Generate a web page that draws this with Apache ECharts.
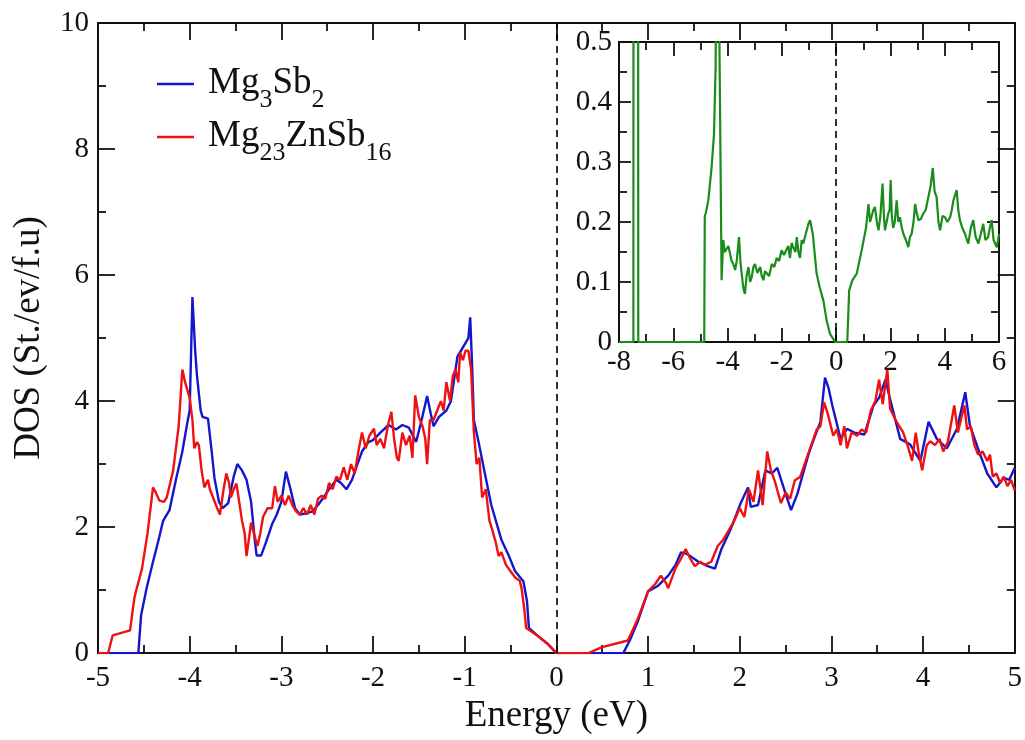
<!DOCTYPE html>
<html>
<head>
<meta charset="utf-8">
<script src="https://cdn.jsdelivr.net/npm/echarts@6/dist/echarts.min.js"></script>
<style>html,body{margin:0;padding:0;background:#fff}#c{width:1025px;height:740px}</style>
</head>
<body>
<div id="c"></div>
<script>
// Total DOS of Mg3Sb2 (blue) : [energy eV, DOS]
const mg3sb2Dos = [[-5,0],[-4.56,0],[-4.53,0.6],[-4.47,1.03],[-4.4,1.45],[-4.33,1.85],[-4.29,2.1],[-4.22,2.27],[-4.15,2.75],[-4.08,3.2],[-4.03,3.62],[-4.0,3.85],[-3.97,5.65],[-3.94,4.8],[-3.92,4.4],[-3.88,3.85],[-3.86,3.75],[-3.8,3.72],[-3.76,3.2],[-3.73,2.78],[-3.68,2.4],[-3.64,2.3],[-3.58,2.38],[-3.52,2.8],[-3.48,3.0],[-3.43,2.9],[-3.38,2.75],[-3.33,2.4],[-3.29,1.8],[-3.27,1.55],[-3.22,1.55],[-3.17,1.75],[-3.1,2.05],[-3.05,2.2],[-3.0,2.4],[-2.95,2.88],[-2.9,2.6],[-2.85,2.3],[-2.8,2.2],[-2.72,2.22],[-2.66,2.25],[-2.6,2.35],[-2.55,2.45],[-2.48,2.6],[-2.4,2.75],[-2.35,2.7],[-2.29,2.6],[-2.23,2.75],[-2.17,3.0],[-2.12,3.2],[-2.05,3.35],[-2.0,3.38],[-1.92,3.5],[-1.83,3.62],[-1.75,3.55],[-1.68,3.62],[-1.61,3.58],[-1.53,3.35],[-1.47,3.7],[-1.41,4.08],[-1.37,3.8],[-1.34,3.6],[-1.28,3.75],[-1.2,3.85],[-1.15,4.0],[-1.08,4.7],[-1.0,4.9],[-0.96,5.0],[-0.94,5.33],[-0.92,4.6],[-0.9,3.7],[-0.85,3.36],[-0.78,2.85],[-0.71,2.35],[-0.6,1.8],[-0.52,1.55],[-0.45,1.3],[-0.36,1.14],[-0.32,0.82],[-0.3,0.4],[-0.2,0.27],[-0.09,0.14],[0,0],[0.73,0],[0.8,0.2],[0.89,0.51],[1.0,0.98],[1.11,1.07],[1.22,1.23],[1.3,1.4],[1.36,1.6],[1.43,1.57],[1.55,1.45],[1.65,1.38],[1.73,1.34],[1.8,1.65],[1.9,1.96],[2.01,2.38],[2.09,2.63],[2.12,2.32],[2.2,2.35],[2.28,2.9],[2.35,2.85],[2.41,2.94],[2.5,2.53],[2.56,2.27],[2.63,2.53],[2.7,2.9],[2.76,3.2],[2.81,3.4],[2.88,3.67],[2.93,4.37],[2.97,4.2],[3.01,3.93],[3.1,3.4],[3.17,3.56],[3.25,3.5],[3.36,3.47],[3.46,3.93],[3.52,4.05],[3.59,4.34],[3.64,4.03],[3.75,3.4],[3.86,3.31],[3.97,3.05],[4.06,3.67],[4.15,3.4],[4.26,3.25],[4.37,3.56],[4.46,4.14],[4.51,3.62],[4.61,3.2],[4.7,2.85],[4.8,2.63],[4.88,2.78],[4.94,2.75],[5.0,2.94]];

// Total DOS of Mg23ZnSb16 (red)
const mg23znsb16Dos = [[-5,0],[-4.89,0],[-4.84,0.28],[-4.65,0.36],[-4.62,0.7],[-4.6,0.9],[-4.52,1.34],[-4.46,1.9],[-4.4,2.63],[-4.37,2.55],[-4.33,2.42],[-4.28,2.4],[-4.25,2.47],[-4.18,2.9],[-4.12,3.6],[-4.08,4.5],[-4.05,4.3],[-4.0,4.05],[-3.97,3.7],[-3.95,3.25],[-3.92,3.35],[-3.9,3.3],[-3.87,2.9],[-3.84,2.63],[-3.8,2.75],[-3.78,2.6],[-3.74,2.45],[-3.7,2.3],[-3.67,2.2],[-3.63,2.6],[-3.6,2.85],[-3.57,2.7],[-3.55,2.47],[-3.52,2.6],[-3.49,2.69],[-3.46,2.4],[-3.43,2.11],[-3.4,1.9],[-3.38,1.54],[-3.35,1.85],[-3.33,2.07],[-3.3,1.9],[-3.26,1.7],[-3.23,1.9],[-3.2,2.16],[-3.15,2.3],[-3.1,2.3],[-3.07,2.65],[-3.04,2.4],[-3.0,2.5],[-2.96,2.35],[-2.92,2.5],[-2.88,2.35],[-2.84,2.25],[-2.8,2.2],[-2.76,2.3],[-2.72,2.2],[-2.68,2.35],[-2.64,2.2],[-2.6,2.45],[-2.56,2.5],[-2.52,2.45],[-2.48,2.7],[-2.44,2.6],[-2.4,2.8],[-2.36,2.75],[-2.32,2.95],[-2.28,2.75],[-2.24,3.0],[-2.2,2.85],[-2.16,3.2],[-2.12,3.5],[-2.08,3.25],[-2.04,3.45],[-1.99,3.56],[-1.96,3.3],[-1.92,3.4],[-1.88,3.25],[-1.84,3.6],[-1.8,3.83],[-1.77,3.4],[-1.74,3.1],[-1.72,3.05],[-1.68,3.5],[-1.64,3.3],[-1.6,3.45],[-1.57,3.1],[-1.54,4.09],[-1.5,3.75],[-1.46,3.6],[-1.43,3.4],[-1.41,3.0],[-1.38,3.7],[-1.34,3.7],[-1.3,3.85],[-1.26,4.0],[-1.23,3.85],[-1.2,4.3],[-1.16,4.0],[-1.13,4.4],[-1.1,4.5],[-1.07,4.3],[-1.05,4.77],[-1.02,4.65],[-0.99,4.8],[-0.96,4.8],[-0.93,4.5],[-0.9,3.51],[-0.87,3.0],[-0.84,3.1],[-0.81,2.47],[-0.77,2.6],[-0.73,2.1],[-0.7,1.96],[-0.66,1.75],[-0.63,1.54],[-0.6,1.6],[-0.55,1.4],[-0.5,1.3],[-0.45,1.2],[-0.4,1.15],[-0.38,1.03],[-0.35,0.7],[-0.33,0.4],[-0.2,0.27],[-0.09,0.14],[0,0],[0.35,0],[0.49,0.09],[0.78,0.2],[0.89,0.55],[1.0,0.98],[1.08,1.1],[1.14,1.23],[1.2,1.1],[1.22,1.03],[1.3,1.35],[1.36,1.5],[1.41,1.65],[1.46,1.5],[1.51,1.38],[1.57,1.45],[1.62,1.4],[1.69,1.45],[1.76,1.7],[1.82,1.8],[1.88,1.95],[1.94,2.1],[2.0,2.3],[2.05,2.16],[2.1,2.6],[2.15,2.4],[2.2,2.9],[2.25,2.35],[2.3,3.2],[2.34,2.9],[2.38,2.74],[2.45,2.38],[2.5,2.55],[2.55,2.45],[2.6,2.74],[2.66,2.8],[2.72,3.05],[2.78,3.3],[2.84,3.55],[2.88,3.6],[2.92,3.98],[2.96,3.8],[3.02,3.45],[3.06,3.55],[3.1,3.3],[3.14,3.6],[3.17,3.25],[3.22,3.5],[3.28,3.45],[3.33,3.55],[3.38,3.5],[3.43,3.85],[3.48,4.0],[3.52,4.34],[3.56,3.95],[3.61,4.5],[3.64,3.88],[3.7,3.7],[3.74,3.6],[3.78,3.51],[3.83,3.3],[3.88,3.05],[3.92,3.5],[3.95,3.2],[3.99,2.9],[4.04,3.3],[4.08,3.36],[4.13,3.3],[4.18,3.4],[4.22,3.2],[4.27,3.35],[4.3,3.6],[4.34,3.93],[4.38,3.5],[4.42,3.75],[4.45,3.93],[4.48,3.55],[4.52,3.6],[4.56,3.3],[4.6,3.15],[4.65,3.2],[4.7,3.05],[4.73,3.15],[4.76,2.8],[4.8,2.85],[4.84,2.7],[4.88,2.8],[4.92,2.65],[4.96,2.75],[5.0,2.58]];

// Inset (green) DOS
const insetDos = [[-8,0],[-7.47,0],[-7.45,3],[-7.31,3],[-7.29,0],[-4.86,0],[-4.84,0.21],[-4.8,0.215],[-4.71,0.236],[-4.59,0.29],[-4.5,0.347],[-4.44,0.458],[-4.4,0.8],[-4.36,0.9],[-4.3,0.5],[-4.22,0.103],[-4.16,0.17],[-4.1,0.15],[-4.03,0.147],[-3.97,0.16],[-3.91,0.158],[-3.85,0.135],[-3.79,0.13],[-3.72,0.12],[-3.66,0.136],[-3.58,0.175],[-3.52,0.13],[-3.48,0.114],[-3.42,0.09],[-3.36,0.08],[-3.3,0.11],[-3.23,0.125],[-3.17,0.1],[-3.11,0.108],[-3.05,0.125],[-2.99,0.13],[-2.9,0.115],[-2.8,0.125],[-2.74,0.11],[-2.68,0.103],[-2.62,0.118],[-2.56,0.12],[-2.47,0.11],[-2.37,0.13],[-2.28,0.125],[-2.19,0.14],[-2.1,0.135],[-2.01,0.153],[-1.92,0.145],[-1.82,0.155],[-1.76,0.16],[-1.7,0.14],[-1.64,0.165],[-1.58,0.158],[-1.5,0.15],[-1.45,0.175],[-1.39,0.15],[-1.33,0.14],[-1.27,0.17],[-1.21,0.164],[-1.12,0.18],[-1.02,0.197],[-0.96,0.203],[-0.86,0.18],[-0.72,0.114],[-0.6,0.09],[-0.47,0.069],[-0.35,0.036],[-0.23,0.014],[-0.04,0],[0.41,0],[0.48,0.086],[0.6,0.103],[0.76,0.114],[0.94,0.153],[1.1,0.19],[1.19,0.23],[1.25,0.2],[1.31,0.203],[1.37,0.22],[1.43,0.225],[1.5,0.2],[1.56,0.186],[1.63,0.21],[1.71,0.264],[1.76,0.21],[1.8,0.186],[1.86,0.2],[1.92,0.214],[1.97,0.22],[2.01,0.27],[2.05,0.21],[2.1,0.19],[2.16,0.2],[2.23,0.236],[2.29,0.2],[2.35,0.208],[2.42,0.19],[2.48,0.18],[2.57,0.17],[2.66,0.158],[2.72,0.175],[2.78,0.18],[2.85,0.2],[2.91,0.23],[2.97,0.215],[3.03,0.203],[3.12,0.205],[3.21,0.214],[3.3,0.22],[3.4,0.242],[3.48,0.26],[3.56,0.29],[3.63,0.25],[3.7,0.242],[3.77,0.2],[3.83,0.186],[3.92,0.21],[4.01,0.208],[4.1,0.2],[4.2,0.208],[4.26,0.22],[4.32,0.236],[4.44,0.253],[4.5,0.22],[4.56,0.203],[4.65,0.19],[4.75,0.18],[4.82,0.17],[4.87,0.164],[4.96,0.19],[5.05,0.203],[5.14,0.175],[5.24,0.164],[5.33,0.18],[5.42,0.197],[5.5,0.17],[5.6,0.175],[5.66,0.19],[5.73,0.203],[5.8,0.17],[5.92,0.158],[6.0,0.18]];

// Axis tick settings
const mainXTicks = {min: -5, max: 5, interval: 1};
const mainYTicks = {min: 0, max: 10, interval: 2};
const insetXTicks = {min: -8, max: 6, interval: 2};
const insetYTicks = {min: 0, max: 0.5, interval: 0.1};

const FONT = '"Liberation Serif", "DejaVu Serif", serif';
const BLACK = '#111';
const LABEL_SIZE = 29;

function axisCommon(opts, show, pos, gridIndex, majorLen, minorLen, labelSize, margin) {
  return Object.assign({
    type: 'value',
    gridIndex: gridIndex,
    position: pos,
    axisLine: {show: true, onZero: false, lineStyle: {color: BLACK, width: 2}},
    axisTick: {show: true, inside: true, length: majorLen, lineStyle: {color: BLACK, width: 1.8}},
    minorTick: {show: true, splitNumber: 2, length: minorLen, lineStyle: {color: BLACK, width: 1.8}},
    splitLine: {show: false},
    minorSplitLine: {show: false},
    axisLabel: {show: show, color: BLACK, fontFamily: FONT, fontSize: labelSize, margin: margin}
  }, opts);
}

const chart = echarts.init(document.getElementById('c'), null, {renderer: 'canvas'});

const legendRich = {
  g: {width: 9},
  n: {fontSize: 37, fontFamily: FONT, color: BLACK, lineHeight: 38, verticalAlign: 'top'},
  s: {fontSize: 26, fontFamily: FONT, color: BLACK, lineHeight: 26, verticalAlign: 'top', padding: [22, 0, 0, 0]}
};

const option = {
  animation: false,
  backgroundColor: '#fff',
  grid: [
    {left: 98, right: 7, top: 23, bottom: 74, containLabel: false},
    {left: 619, top: 42, width: 380, height: 300, show: true, backgroundColor: '#fff', borderWidth: 0, containLabel: false}
  ],
  legend: {
    show: true,
    orient: 'vertical',
    left: 152,
    top: 60,
    itemWidth: 37,
    itemHeight: 2.5,
    itemGap: 5,
    icon: 'rect',
    data: ['Mg3Sb2', 'Mg23ZnSb16'],
    formatter: function (name) {
      if (name === 'Mg3Sb2') return '{g|}{n|Mg}{s|3}{n|Sb}{s|2}';
      return '{g|}{n|Mg}{s|23}{n|ZnSb}{s|16}';
    },
    textStyle: {rich: legendRich}
  },
  xAxis: [
    axisCommon(Object.assign({}, mainXTicks, {
      name: 'Energy (eV)', nameLocation: 'middle', nameGap: 38,
      nameTextStyle: {fontFamily: FONT, fontSize: 37, color: BLACK}
    }), true, 'bottom', 0, 17, 8, LABEL_SIZE, 11),
    axisCommon(Object.assign({}, mainXTicks), false, 'top', 0, 17, 8, LABEL_SIZE, 11),
    axisCommon(Object.assign({}, insetXTicks), true, 'bottom', 1, 14, 8, LABEL_SIZE, 6),
    axisCommon(Object.assign({}, insetXTicks), false, 'top', 1, 14, 8, LABEL_SIZE, 6)
  ],
  yAxis: [
    axisCommon(Object.assign({}, mainYTicks, {
      name: 'DOS (St./ev/f.u)', nameLocation: 'middle', nameGap: 50,
      nameTextStyle: {fontFamily: FONT, fontSize: 37, color: BLACK}
    }), true, 'left', 0, 17, 8, LABEL_SIZE, 9),
    axisCommon(Object.assign({}, mainYTicks), false, 'right', 0, 17, 8, LABEL_SIZE, 9),
    axisCommon(Object.assign({}, insetYTicks, {
      axisLabel: {show: true, color: BLACK, fontFamily: FONT, fontSize: LABEL_SIZE, margin: 7,
        formatter: function (v) { return v === 0 ? '0' : v.toFixed(1); }}
    }), true, 'left', 1, 12, 8, LABEL_SIZE, 7),
    axisCommon(Object.assign({}, insetYTicks), false, 'right', 1, 12, 8, LABEL_SIZE, 7)
  ],
  series: [
    {
      name: 'Mg3Sb2', type: 'line', xAxisIndex: 0, yAxisIndex: 0,
      data: mg3sb2Dos, showSymbol: false, symbol: 'none', clip: true,
      lineStyle: {color: '#1515cc', width: 2.4}, itemStyle: {color: '#1515cc'},
      z: 3,
      markLine: {
        silent: true, symbol: ['none', 'none'], label: {show: false},
        lineStyle: {color: '#000', width: 1.6, type: [7, 5]},
        data: [{xAxis: 0}]
      }
    },
    {
      name: 'Mg23ZnSb16', type: 'line', xAxisIndex: 0, yAxisIndex: 0,
      data: mg23znsb16Dos, showSymbol: false, symbol: 'none', clip: true,
      lineStyle: {color: '#ee1111', width: 2.4}, itemStyle: {color: '#ee1111'},
      z: 4
    },
    {
      name: 'Zn', type: 'line', xAxisIndex: 2, yAxisIndex: 2,
      data: insetDos, showSymbol: false, symbol: 'none', clip: true,
      lineStyle: {color: '#1a8c1a', width: 2.2}, itemStyle: {color: '#1a8c1a'},
      z: 5,
      markLine: {
        silent: true, symbol: ['none', 'none'], label: {show: false},
        lineStyle: {color: '#000', width: 1.6, type: [7, 5]},
        data: [{xAxis: 0}]
      }
    }
  ]
};
chart.setOption(option);
</script>
</body>
</html>
